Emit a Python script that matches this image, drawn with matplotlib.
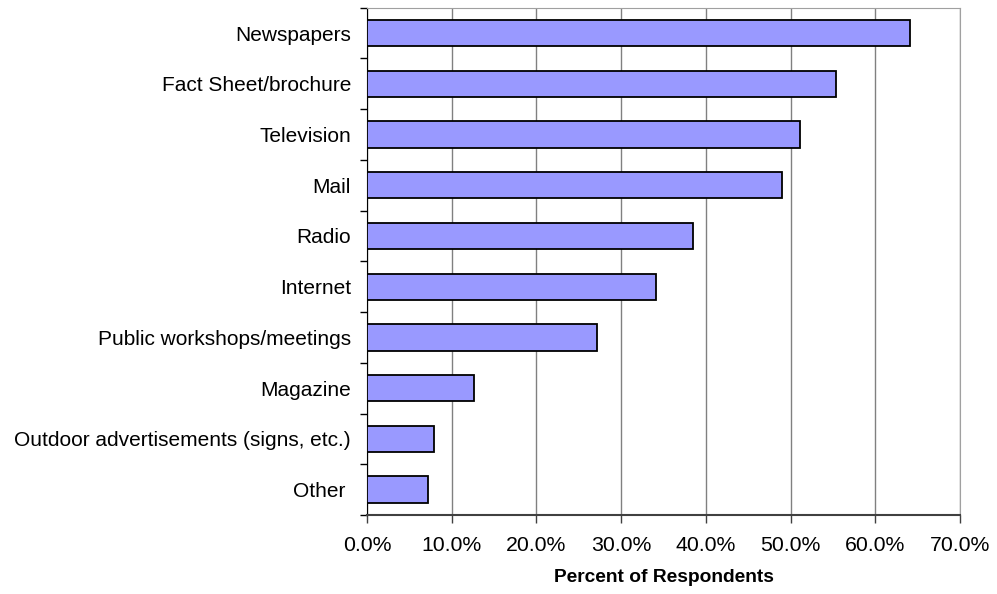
import matplotlib
matplotlib.use('Agg')
import matplotlib.pyplot as plt
import matplotlib.ticker as ticker

plt.rcParams['font.family'] = ['Liberation Sans', 'DejaVu Sans']

categories = ['Newspapers', 'Fact Sheet/brochure', 'Television', 'Mail', 'Radio',
              'Internet', 'Public workshops/meetings', 'Magazine',
              'Outdoor advertisements (signs, etc.)', 'Other ']
percents = [64.1, 55.3, 51.1, 49.0, 38.5, 34.1, 27.2, 12.65, 7.9, 7.25]
xticks = [0, 10, 20, 30, 40, 50, 60, 70]

fig = plt.figure(figsize=(9.97, 5.94), dpi=100)
ax = fig.add_axes([0.368, 0.133, 0.595, 0.854])

pos = list(range(len(categories)))
ax.barh(pos, percents, height=0.52, color='#9999FF', edgecolor='black', linewidth=1.3, zorder=3)
ax.set_ylim(len(categories) - 0.5, -0.5)
ax.set_xlim(0, 70)

# category labels between ticks, ticks on the category boundaries
ax.set_yticks(pos)
ax.set_yticklabels(categories, fontsize=15)
ax.tick_params(axis='y', which='major', length=0, pad=11.5)
ax.set_yticks([p - 0.5 for p in pos] + [len(pos) - 0.5], minor=True)
ax.tick_params(axis='y', which='minor', length=5, width=1, direction='out')

ax.set_xticks(xticks)
ax.xaxis.set_major_formatter(ticker.FuncFormatter(lambda v, p: '%.1f%%' % v))
ax.tick_params(axis='x', length=6, width=1, direction='out', labelsize=15.3, pad=9, color='#404040')
ax.grid(axis='x', color='#808080', linewidth=1, zorder=0)

for side in ['top', 'right']:
    ax.spines[side].set_color('#a0a0a0')
ax.spines['left'].set_color('black')
ax.spines['bottom'].set_color('#404040')
ax.spines['bottom'].set_linewidth(1.5)

ax.set_xlabel('Percent of Respondents', fontsize=13.8, fontweight='bold', labelpad=10)

fig.savefig('out.png', dpi=100)
